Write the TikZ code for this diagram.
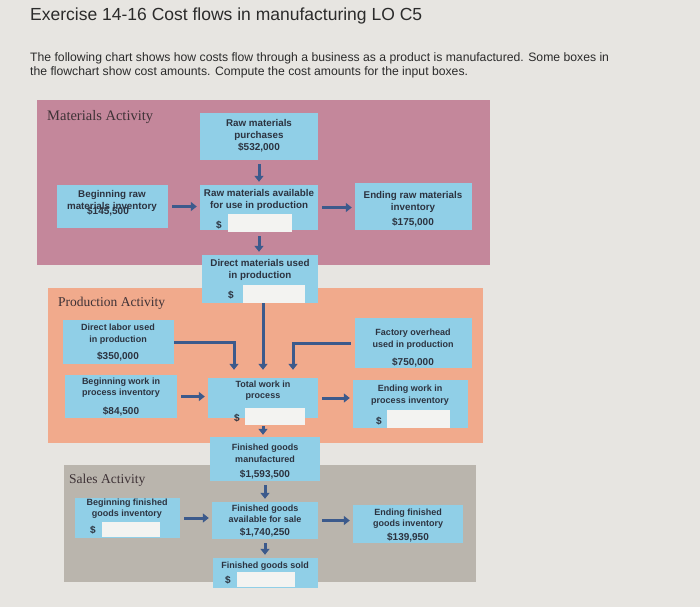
\documentclass[tikz,border=0pt]{standalone}
\usepackage{fontspec}
\setmainfont{Liberation Serif}
\setsansfont{Liberation Sans}
\usetikzlibrary{arrows.meta}
\usetikzlibrary{fit}

\definecolor{screen}{HTML}{E7E5E1}
\definecolor{matpink}{HTML}{C4879B}
\definecolor{prodorange}{HTML}{F1AA8C}
\definecolor{salesgrey}{HTML}{BAB5AD}
\definecolor{boxblue}{HTML}{90CFE7}
\definecolor{fieldwhite}{HTML}{F3F3F1}
\definecolor{arrowblue}{HTML}{3C5A8C}
\definecolor{boxtext}{HTML}{2C3340}
\definecolor{headtext}{HTML}{3E3236}
\definecolor{pagetext}{HTML}{2B2B2B}

\begin{document}
\begin{tikzpicture}[x=1pt,y=-1pt,
  panel/.style={fill=#1,draw=none,inner sep=0pt},
  costbox/.style={fill=boxblue,draw=none,inner sep=0pt},
  inbox/.style={fill=fieldwhite,draw=none,inner sep=0pt},
  boxlabel/.style={font=\sffamily\bfseries\fontsize{9}{11.5}\selectfont,text=boxtext,align=center,inner sep=0pt},
  biglabel/.style={boxlabel,font=\sffamily\bfseries\fontsize{9.8}{12}\selectfont},
  amount/.style={font=\sffamily\bfseries\fontsize{10}{12}\selectfont,text=boxtext,inner sep=0pt},
  heading/.style={font=\rmfamily\fontsize{13.5}{16}\selectfont,text=headtext,anchor=west,inner sep=0pt},
  flow/.style={draw=arrowblue,line width=3pt,-{Triangle[length=6pt,width=9pt]},shorten <=4pt,shorten >=3pt}]

\fill[screen] (0,0) rectangle (700,607);
\useasboundingbox (0,0) rectangle (700,607);

\node[anchor=west,inner sep=0pt,text=pagetext,font=\sffamily\fontsize{17.5}{20}\selectfont] (title) at (30,16) {Exercise 14-16 Cost flows in manufacturing LO C5};
\node[anchor=north west,inner sep=0pt,text=pagetext,align=left,font=\sffamily\fontsize{12.2}{14}\selectfont] (intro) at (30,52)
  {The following chart shows how costs flow through a business as a product is manufactured. Some boxes in\\
   the flowchart show cost amounts. Compute the cost amounts for the input boxes.};

\node[panel=matpink,fit={(37,100) (490,265)}] (matpanel) {};
\node[panel=prodorange,fit={(48,288) (483,443)}] (prodpanel) {};
\node[panel=salesgrey,fit={(64,465) (476,582)}] (salespanel) {};

\node[heading,font=\rmfamily\fontsize{14.5}{16}\selectfont] (mathead) at (47,117) {Materials Activity};
\node[heading] (prodhead) at (58,303) {Production Activity};
\node[heading] (saleshead) at (69,480) {Sales Activity};

\node[costbox,fit={(200,113) (318,160)}] (purch) {};
\node[costbox,fit={(57,185) (168,228)}] (begraw) {};
\node[costbox,fit={(200,185) (318,230)}] (avail) {};
\node[costbox,fit={(355,183) (472,230)}] (endraw) {};
\node[costbox,fit={(202,255) (318,303)}] (dmused) {};

\node[costbox,fit={(63,320) (174,364)}] (dlabor) {};
\node[costbox,fit={(65,375) (177,418)}] (begwip) {};
\node[costbox,fit={(208,378) (318,418)}] (totwip) {};
\node[costbox,fit={(355,318) (472,368)}] (fohead) {};
\node[costbox,fit={(353,380) (468,428)}] (endwip) {};

\node[costbox,fit={(210,437) (320,481)}] (fgmade) {};
\node[costbox,fit={(75,498) (180,538)}] (begfg) {};
\node[costbox,fit={(212,502) (318,539)}] (fgavail) {};
\node[costbox,fit={(353,505) (463,543)}] (endfg) {};
\node[costbox,fit={(213,558) (318,588)}] (fgsold) {};

\node[inbox,fit={(228,214) (292,232)}] (avail-in) {};
\node[inbox,fit={(243,285) (305,303)}] (dmused-in) {};
\node[inbox,fit={(245,408) (305,425)}] (totwip-in) {};
\node[inbox,fit={(387,410) (450,428)}] (endwip-in) {};
\node[inbox,fit={(102,522) (160,537)}] (begfg-in) {};
\node[inbox,fit={(237,572) (295,587)}] (fgsold-in) {};

\node[biglabel] (purch-t) at (259,130) {Raw materials\\purchases};
\node[amount] (purch-v) at (259,148) {\$532,000};
\node[biglabel] (begraw-t) at (112,200.5) {Beginning raw\\materials inventory};
\node[amount] (begraw-v) at (108,212) {\$145,500};
\node[biglabel] (avail-t) at (259,200) {Raw materials available\\for use in production};
\node[amount] (avail-d) at (219,225) {\$};
\node[biglabel] (endraw-t) at (413,202) {Ending raw materials\\inventory};
\node[amount] (endraw-v) at (413,223) {\$175,000};
\node[biglabel] (dmused-t) at (260,269.5) {Direct materials used\\in production};
\node[amount] (dmused-d) at (231,295) {\$};

\node[boxlabel] (dlabor-t) at (118,334) {Direct labor used\\in production};
\node[amount] (dlabor-v) at (118,357) {\$350,000};
\node[boxlabel] (begwip-t) at (121,387.5) {Beginning work in\\process inventory};
\node[amount] (begwip-v) at (121,412) {\$84,500};
\node[boxlabel] (totwip-t) at (263,390.5) {Total work in\\process};
\node[amount] (totwip-d) at (237,418) {\$};
\node[boxlabel] (fohead-t) at (413,339) {Factory overhead\\used in production};
\node[amount] (fohead-v) at (413,363) {\$750,000};
\node[boxlabel] (endwip-t) at (410,395) {Ending work in\\process inventory};
\node[amount] (endwip-d) at (379,421) {\$};

\node[boxlabel] (fgmade-t) at (265,453.5) {Finished goods\\manufactured};
\node[amount] (fgmade-v) at (265,475) {\$1,593,500};
\node[boxlabel] (begfg-t) at (127,508.5) {Beginning finished\\goods inventory};
\node[amount] (begfg-d) at (93,530) {\$};
\node[boxlabel] (fgavail-t) at (265,514) {Finished goods\\available for sale};
\node[amount] (fgavail-v) at (265,533) {\$1,740,250};
\node[boxlabel] (endfg-t) at (408,518.5) {Ending finished\\goods inventory};
\node[amount] (endfg-v) at (408,538) {\$139,950};
\node[boxlabel] (fgsold-t) at (265,566) {Finished goods sold};
\node[amount] (fgsold-d) at (228,580) {\$};

\draw[flow] (purch) -- (avail);
\draw[flow] (begraw) -- (begraw -| avail.west);
\draw[flow] (avail) -- (avail -| endraw.west);
\draw[flow] (avail-in.south -| avail.south) -- (avail.south |- dmused.north);

\draw[flow,shorten <=0pt,shorten >=8pt] (dlabor) -| ([xshift=-29pt]totwip.north);
\draw[flow,shorten <=0pt,shorten >=8pt] (dmused-in.south -| totwip.north) -- (totwip.north);
\draw[flow,shorten <=4pt,shorten >=8pt] (fohead) -| ([xshift=30pt]totwip.north);
\draw[flow] (begwip) -- (begwip -| totwip.west);
\draw[flow] (totwip) -- (totwip -| endwip.west);
\draw[flow,shorten <=1pt,shorten >=2pt] (totwip-in.south -| totwip.south) -- (totwip.south |- fgmade.north);

\draw[flow] (fgmade) -- (fgmade.south |- fgavail.north);
\draw[flow] (begfg) -- (begfg -| fgavail.west);
\draw[flow] (fgavail) -- (fgavail -| endfg.west);
\draw[flow] (fgavail) -- (fgavail.south |- fgsold.north);

\end{tikzpicture}
\end{document}
